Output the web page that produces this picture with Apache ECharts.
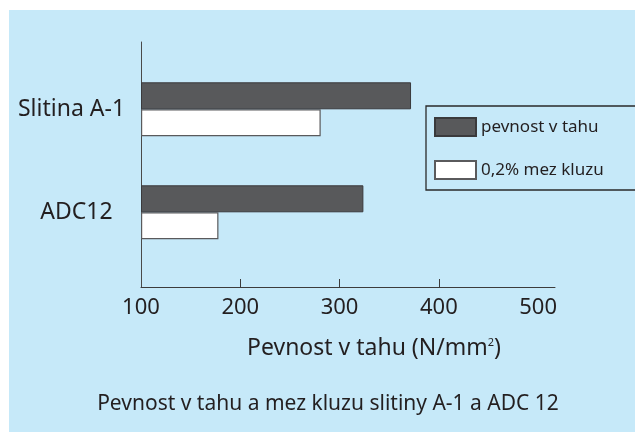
<!DOCTYPE html>
<html>
<head>
<meta charset="utf-8">
<script src="https://cdn.jsdelivr.net/npm/echarts@6/dist/echarts.min.js"></script>
<style>
html,body{margin:0;padding:0;background:#ffffff;}
#chart{width:635px;height:432px;}
</style>
</head>
<body>
<div id="chart"></div>
<script>
const categories = ['Slitina A-1', 'ADC12'];
const seriesNames = ['pevnost v tahu', '0,2% mez kluzu'];
const tensileStrength = [372, 324];
const yieldStrength = [281, 178];
const xTickLabels = [100, 200, 300, 400, 500];
const xInnerTicks = [200, 300, 400];
const xAxisTitle = 'Pevnost v tahu (N/mm{sup|2})';
const caption = 'Pevnost v tahu a mez kluzu slitiny A-1 a ADC 12';

const FONT = 'Noto Sans';
const TXT = '#231f20';
const X_MIN = 100, X_MAX = 517;

const chart = echarts.init(document.getElementById('chart'), null, {renderer: 'canvas'});
chart.setOption({
  animation: false,
  backgroundColor: '#ffffff',
  graphic: [{
    type: 'rect', z: -10, silent: true,
    shape: {x: 9, y: 10, width: 626, height: 422},
    style: {fill: '#c6e9f9'}
  }],
  title: [{
    text: xAxisTitle,
    left: 374, top: 337, textAlign: 'center',
    textStyle: {
      fontFamily: FONT, fontSize: 23, fontWeight: 'normal', color: TXT,
      rich: {sup: {fontFamily: FONT, fontSize: 11, color: TXT, verticalAlign: 'top', padding: [0, 0, 10, 0]}}
    },
    padding: 0
  }, {
    text: caption,
    left: 328, top: 394, textAlign: 'center',
    textStyle: {fontFamily: FONT, fontSize: 21, fontWeight: 'normal', color: TXT},
    padding: 0
  }],
  legend: {
    orient: 'vertical',
    left: 426, top: 106,
    padding: [11, 38, 10, 8],
    itemWidth: 41, itemHeight: 18,
    itemGap: 23,
    icon: 'rect',
    borderColor: '#2a2a2a', borderWidth: 1.3,
    backgroundColor: 'transparent',
    textStyle: {fontFamily: FONT, fontSize: 17, color: TXT},
    data: seriesNames
  },
  grid: [
    {left: 141, right: 80, top: 42, bottom: 145, containLabel: false},
    {left: 141, right: 80, top: 57.8, bottom: 168.2, containLabel: false}
  ],
  xAxis: [{
    gridIndex: 0, type: 'value', min: X_MIN, max: X_MAX,
    axisLine: {show: true, lineStyle: {color: '#3c3c3c', width: 1}},
    axisTick: {show: true, inside: true, length: 8, customValues: xInnerTicks, lineStyle: {color: '#3c3c3c'}},
    axisLabel: {show: true, customValues: xTickLabels, margin: 10, fontFamily: FONT, fontSize: 22, color: TXT},
    splitLine: {show: false}
  }, {
    gridIndex: 1, type: 'value', min: X_MIN, max: X_MAX, startValue: X_MIN, show: false,
    splitLine: {show: false}
  }],
  yAxis: [{
    gridIndex: 0, type: 'value', min: 0, max: 1,
    axisLine: {show: true, lineStyle: {color: '#4a4a4a', width: 1}},
    axisTick: {show: false}, axisLabel: {show: false}, splitLine: {show: false}
  }, {
    gridIndex: 1, type: 'category', data: categories, inverse: true,
    axisLine: {show: false}, axisTick: {show: false}, splitLine: {show: false},
    axisLabel: {
      show: true, align: 'center', margin: 67,
      fontFamily: FONT, fontSize: 23, color: TXT,
      formatter: function (v, i) { return i === 0 ? '{a|' + v + '}' : '{b|' + v + '}'; },
      rich: {
        a: {fontFamily: FONT, fontSize: 23, color: TXT, padding: [0, 5, 0, 0]},
        b: {fontFamily: FONT, fontSize: 23, color: TXT, padding: [0, 0, 0, 5]}
      }
    }
  }],
  series: [{
    name: seriesNames[0], type: 'bar', xAxisIndex: 1, yAxisIndex: 1,
    data: tensileStrength, barWidth: 27, barGap: '0%',
    itemStyle: {color: '#58595b', borderColor: '#3a3a3c', borderWidth: 1}
  }, {
    name: seriesNames[1], type: 'bar', xAxisIndex: 1, yAxisIndex: 1,
    data: yieldStrength, barWidth: 27, barGap: '0%',
    itemStyle: {color: '#ffffff', borderColor: '#5a5a5c', borderWidth: 1.2}
  }]
});
</script>
</body>
</html>
